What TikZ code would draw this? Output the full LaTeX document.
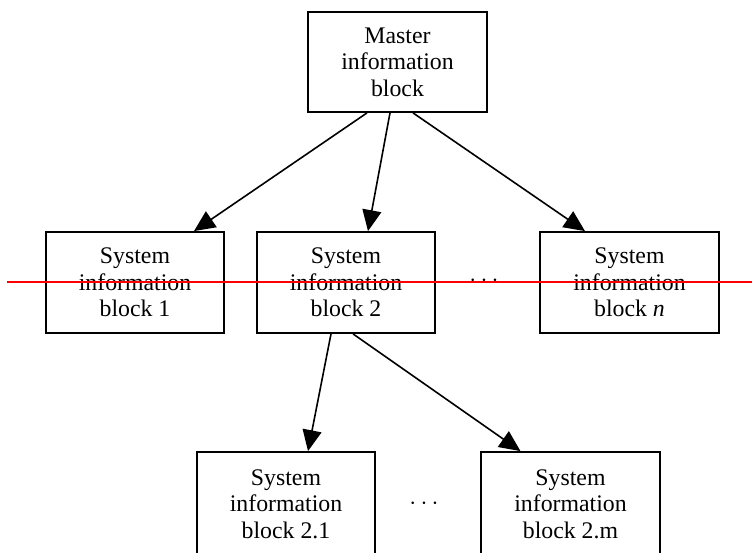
\documentclass[tikz,border=0pt]{standalone}
\usepackage{fontspec}
\setmainfont{Liberation Serif}
\usetikzlibrary{arrows.meta}
\begin{document}
\begin{tikzpicture}[x=1pt,y=1pt,
  blockbox/.style={draw, line width=1.8pt, minimum width=178pt, minimum height=101pt,
    inner sep=0pt, align=center, font=\fontsize{23.8}{26.5}\selectfont},
  arr/.style={line width=1.6pt, -{Triangle[length=21pt,width=19pt]}},
  gap/.style={inner sep=0pt, anchor=base, font=\fontsize{23.8}{26.5}\selectfont}]
\clip (0,0) rectangle (752,552);

% blocks
\node[blockbox, minimum width=179pt, minimum height=100pt] (M) at (397.5,490) {Master\\information\\block};
\node[blockbox] (S1) at (135,269.5) {System\\information\\block 1};
\node[blockbox] (S2) at (346,269.5) {System\\information\\block 2};
\node[blockbox, minimum width=179pt] (Sn) at (629.5,269.5) {System\\information\\block \textit{n}};
\node[blockbox, minimum height=104pt] (S21) at (286,48) {System\\information\\block 2.1};
\node[blockbox, minimum width=179pt, minimum height=104pt] (S2m) at (570.5,48) {System\\information\\block 2.m};

% ellipses between siblings
\node[gap] (d1) at (484,265) {$\cdots$};
\node[gap] (d2) at (424,43) {$\cdots$};

% connectors
\draw[arr] ([xshift=-30.5pt]M.south) -- ([xshift=59pt]S1.north);
\draw[arr] ([xshift=-7.5pt]M.south) -- ([xshift=22pt]S2.north);
\draw[arr] ([xshift=15.5pt]M.south) -- ([xshift=-44.5pt]Sn.north);
\draw[arr] ([xshift=-15pt]S2.south) -- ([xshift=22pt]S21.north);
\draw[arr] ([xshift=7pt]S2.south) -- ([xshift=-50pt]S2m.north);

% red rule across the middle row
\coordinate (rl) at (7,270);
\coordinate (rr) at (752,270);
\draw[red, line width=1.7pt] (rl) -- (rr);
\end{tikzpicture}
\end{document}
